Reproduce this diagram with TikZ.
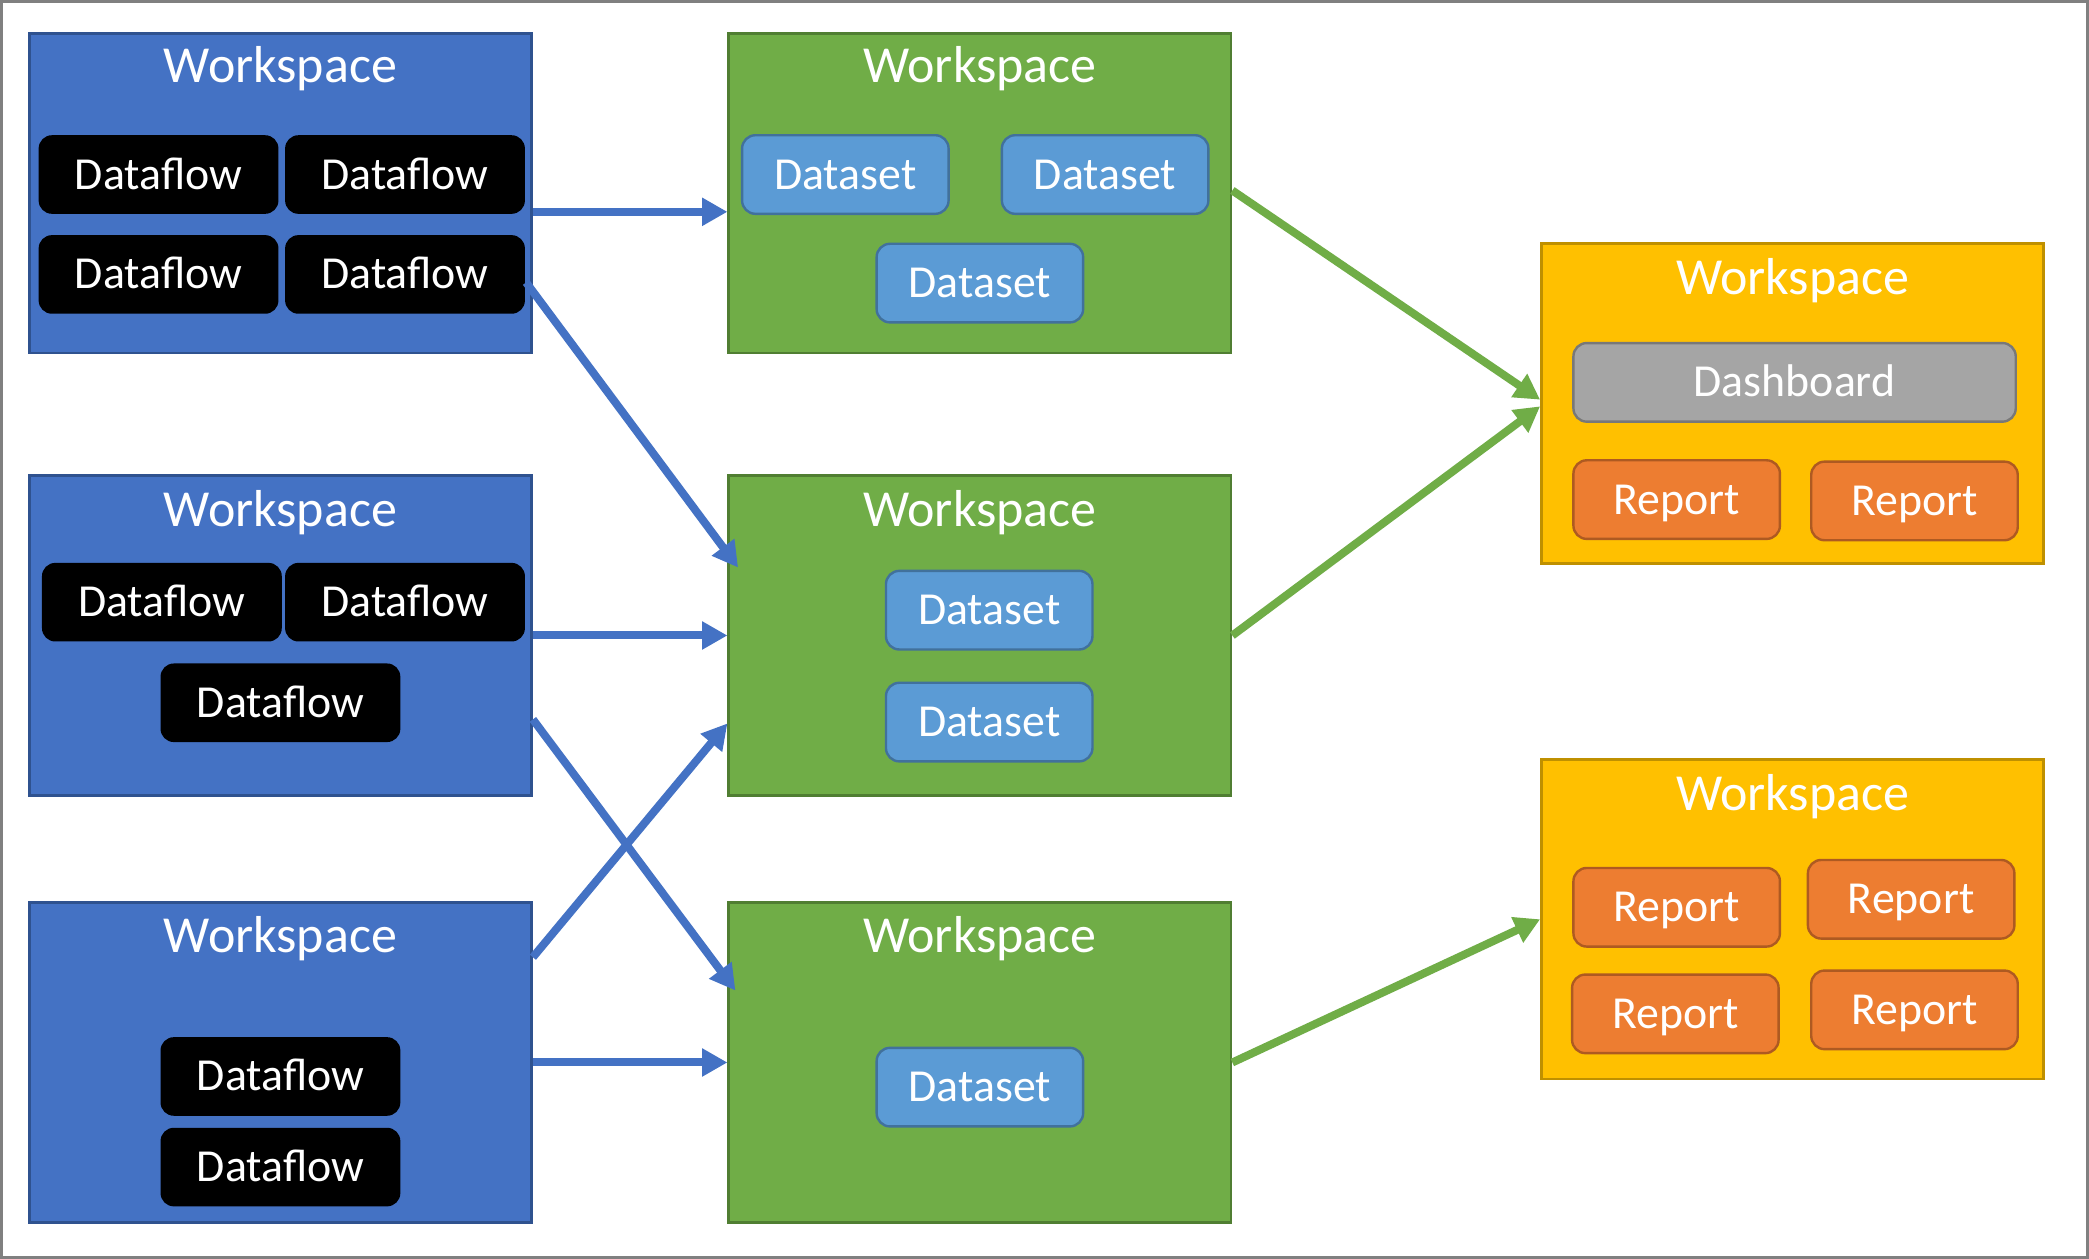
\documentclass[tikz,border=0pt]{standalone}
\usepackage{fontspec}
\setmainfont{Carlito}
\usetikzlibrary{arrows.meta}
\definecolor{wsblue}{HTML}{4472C4}
\definecolor{wsblueb}{HTML}{2F528F}
\definecolor{wsgreen}{HTML}{70AD47}
\definecolor{wsgreenb}{HTML}{507E32}
\definecolor{wsyellow}{HTML}{FFC000}
\definecolor{wsyellowb}{HTML}{BF9000}
\definecolor{dsblue}{HTML}{5B9BD5}
\definecolor{dsblueb}{HTML}{41719C}
\definecolor{rporange}{HTML}{ED7D31}
\definecolor{rporangeb}{HTML}{AE5A21}
\definecolor{dbgray}{HTML}{A5A5A5}
\definecolor{dbgrayb}{HTML}{787878}
\definecolor{framegray}{HTML}{808080}
\tikzset{
  ws/.style={rectangle, minimum width=188.5pt, minimum height=120pt, line width=1pt, inner sep=0pt},
  bluews/.style={ws, fill=wsblue, draw=wsblueb},
  greenws/.style={ws, fill=wsgreen, draw=wsgreenb},
  yellowws/.style={ws, fill=wsyellow, draw=wsyellowb},
  wstitle/.style={text=white, font=\fontsize{19.5}{22}\selectfont, inner sep=0pt, text height=12.3pt, text depth=0pt},
  item/.style={rectangle, rounded corners=5pt, minimum height=29.5pt, inner sep=0pt, text=white, font=\fontsize{17.2}{20}\selectfont, line width=0.9pt, text height=10.9pt, text depth=0pt},
  dflow/.style={item, fill=black, minimum width=90pt},
  dset/.style={item, fill=dsblue, draw=dsblueb, minimum width=77.5pt},
  rpt/.style={item, fill=rporange, draw=rporangeb, minimum width=77.5pt},
  dashbox/.style={item, fill=dbgray, draw=dbgrayb, minimum width=166pt},
  barrow/.style={draw=wsblue, line width=3pt, -{Triangle[length=9.5pt,width=10pt]}},
  garrow/.style={draw=wsgreen, line width=3pt, -{Triangle[length=9.5pt,width=10pt]}},
}
\begin{document}
\begin{tikzpicture}[x=0.5pt, y=-0.5pt]
\useasboundingbox (0,0) rectangle (1568,945);
\fill[white] (0,0) rectangle (1568,945);
\draw[framegray, line width=1.2pt] (1.2,1.2) rectangle (1566.8,943.8);

% Workspaces
\node[bluews] (b1) at (210.5,145) {};
\node[bluews] (b2) at (210.5,477) {};
\node[bluews] (b3) at (210.5,797.5) {};
\node[greenws] (g1) at (735.5,145) {};
\node[greenws] (g2) at (735.5,477) {};
\node[greenws] (g3) at (735.5,797.5) {};
\node[yellowws] (y1) at (1345.5,303) {};
\node[yellowws] (y2) at (1345.5,690) {};

\node[wstitle] (tb1) at (210.5,50) {Workspace};
\node[wstitle] (tb2) at (210.5,383) {Workspace};
\node[wstitle] (tb3) at (210.5,703) {Workspace};
\node[wstitle] (tg1) at (735.5,50) {Workspace};
\node[wstitle] (tg2) at (735.5,383) {Workspace};
\node[wstitle] (tg3) at (735.5,703) {Workspace};
\node[wstitle] (ty1) at (1345.5,209) {Workspace};
\node[wstitle] (ty2) at (1345.5,596) {Workspace};

% Dataflows
\node[dflow] (d11) at (119,131) {Dataflow};
\node[dflow] (d12) at (304,131) {Dataflow};
\node[dflow] (d13) at (119,206) {Dataflow};
\node[dflow] (d14) at (304,206) {Dataflow};
\node[dflow] (d21) at (121.5,452) {Dataflow};
\node[dflow] (d22) at (304,452) {Dataflow};
\node[dflow] (d23) at (210.5,527.5) {Dataflow};
\node[dflow] (d31) at (210.5,808) {Dataflow};
\node[dflow] (d32) at (210.5,876) {Dataflow};

% Datasets
\node[dset] (s11) at (634.5,131) {Dataset};
\node[dset] (s12) at (829.5,131) {Dataset};
\node[dset] (s13) at (735.5,212.5) {Dataset};
\node[dset] (s21) at (742.5,458) {Dataset};
\node[dset] (s22) at (742.5,542) {Dataset};
\node[dset] (s31) at (735.5,816) {Dataset};

% Dashboard and reports
\node[dashbox] (db) at (1347,287) {Dashboard};
\node[rpt] (r11) at (1258.5,375) {Report};
\node[rpt] (r12) at (1437,376) {Report};
\node[rpt] (r21) at (1258.5,681) {Report};
\node[rpt] (r22) at (1434.5,675) {Report};
\node[rpt] (r23) at (1257.5,761) {Report};
\node[rpt] (r24) at (1437,758) {Report};

% Blue connectors
\draw[barrow] ([yshift=-7pt]b1.east) -- ([yshift=-7pt]g1.west);
\draw[barrow] ([yshift=-3pt]d14.east) -- ([xshift=4pt,yshift=-35pt]g2.north west);
\draw[barrow] (b2.east) -- (g2.west);
\draw[barrow] ([yshift=-31.5pt]b2.east) -- ([xshift=3pt,yshift=-33.5pt]g3.north west);
\draw[barrow] ([yshift=-21pt]b3.north east) -- ([yshift=-33pt]g2.west);
\draw[barrow] (b3.east) -- (g3.west);

% Green connectors
\draw[garrow] ([yshift=1pt]g1.east) -- ([yshift=1.5pt]y1.west);
\draw[garrow] (g2.east) -- ([yshift=-1pt]y1.west);
\draw[garrow] (g3.east) -- (y2.west);
\end{tikzpicture}
\end{document}
